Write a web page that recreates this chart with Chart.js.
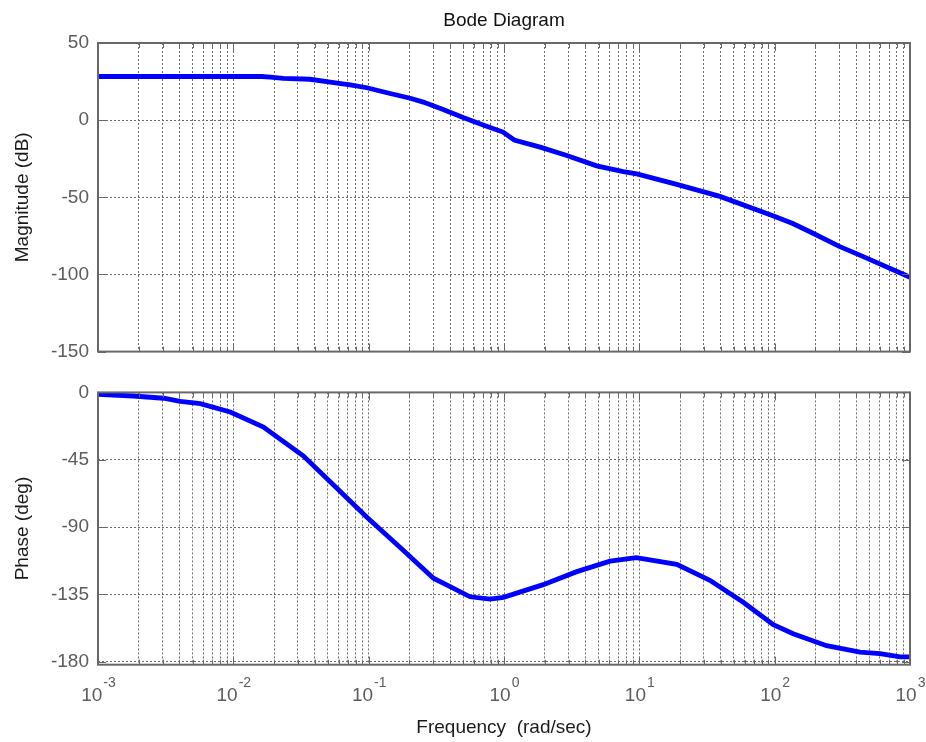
<!DOCTYPE html>
<html>
<head>
<meta charset="utf-8">
<title>Bode Diagram</title>
<script src="https://cdn.jsdelivr.net/npm/chart.js@4.4.0/dist/chart.umd.min.js"></script>
<style>
  html, body { margin: 0; padding: 0; background: #fff; }
  #wrap { position: relative; width: 926px; height: 742px; }
  #mag { position: absolute; left: 0; top: 0; }
  #phase { position: absolute; left: 0; top: 372px; }
</style>
</head>
<body>
<div id="wrap">
  <canvas id="mag" width="926" height="372"></canvas>
  <canvas id="phase" width="926" height="370"></canvas>
</div>
<script>
// Magnitude curve (rad/sec, dB)
const magFreq = [0.001, 0.0163, 0.0187, 0.0234, 0.0369, 0.0519, 0.0729, 0.097, 0.144, 0.203, 0.253, 0.355, 0.499, 0.701, 0.984, 1.19, 1.85, 2.91, 4.84, 7.62, 9.57, 18.9, 39.4, 97.1, 136, 192, 303, 426, 1000];
const magDb = [28.3, 28.3, 27.9, 27.1, 26.5, 24.6, 22.9, 21, 17.3, 14.2, 11.7, 6.9, 1.7, -3.1, -7.7, -12.9, -17.5, -22.9, -29.6, -33.3, -34.8, -41.6, -49.4, -61.9, -67, -73.3, -82, -87.5, -101.8];

// Phase curve (rad/sec, deg)
const phaseFreq = [0.001, 0.00183, 0.00305, 0.00405, 0.0057, 0.00949, 0.0167, 0.033, 0.055, 0.097, 0.171, 0.301, 0.562, 0.789, 0.991, 1.95, 3.45, 6.08, 9.5, 18.9, 33.2, 58.6, 97.7, 137, 242, 427, 600, 843, 1000];
const phaseDeg = [-1.3, -2.4, -3.9, -6, -7.5, -13.1, -23.2, -42.5, -61.9, -83.4, -103.7, -124.2, -136.6, -138.1, -137, -128.5, -119.8, -112.8, -110.5, -114.9, -125.6, -140.3, -155.3, -161.3, -169.3, -173.6, -174.6, -176.8, -176.8];

// Axis ticks
const magTicks = [50, 0, -50, -100, -150];
const phaseTicks = [0, -45, -90, -135, -180];
const decades = [0.001, 0.01, 0.1, 1, 10, 100, 1000];
const decadeExponents = ['-3', '-2', '-1', '0', '1', '2', '3'];

const FONT = '"Liberation Sans", Arial, Helvetica, sans-serif';
const tickGrey = '#5c5c5c';
const gridGrey = '#6c6c6c';
const boxGrey = '#686868';

// 1..9 per decade, the major ones on the powers of ten
function logTicks() {
    const ticks = [];
    const top = decades[decades.length - 1];
    for (let i = 0; i < decades.length; i++) {
        for (let m = 1; m <= 9; m++) {
            const v = decades[i] * m;
            if (v > top * 1.0001) break;
            ticks.push({ value: v, major: m === 1 });
        }
    }
    return ticks;
}

// Box round the plot area with small inward tick marks
const boxPlugin = {
    id: 'box',
    afterDatasetsDraw(chart) {
        const ctx = chart.ctx;
        const a = chart.chartArea;
        const xs = chart.scales.x;
        const ys = chart.scales.y;
        ctx.save();
        ctx.strokeStyle = boxGrey;
        ctx.lineWidth = 1;
        ctx.beginPath();
        xs.ticks.forEach(t => {
            const px = Math.round(xs.getPixelForValue(t.value)) + 0.5;
            const len = t.major ? 8 : 5;
            ctx.moveTo(px, a.top);
            ctx.lineTo(px, a.top + len);
            ctx.moveTo(px, a.bottom);
            ctx.lineTo(px, a.bottom - len);
        });
        ys.ticks.forEach(t => {
            const py = Math.round(ys.getPixelForValue(t.value)) + 0.5;
            ctx.moveTo(a.left, py);
            ctx.lineTo(a.left + 8, py);
            ctx.moveTo(a.right, py);
            ctx.lineTo(a.right - 8, py);
        });
        ctx.stroke();
        ctx.lineWidth = 2;
        ctx.strokeRect(a.left, a.top, a.right - a.left, a.bottom - a.top);
        ctx.restore();
    }
};

// x tick labels as 10 with a raised exponent
const powerLabels = {
    id: 'powerLabels',
    afterDraw(chart, args, opts) {
        if (!opts.show) return;
        const ctx = chart.ctx;
        const xs = chart.scales.x;
        ctx.save();
        ctx.fillStyle = tickGrey;
        ctx.textBaseline = 'alphabetic';
        ctx.textAlign = 'left';
        decades.forEach((v, i) => {
            const px = xs.getPixelForValue(v);
            ctx.font = '19px ' + FONT;
            const wBase = ctx.measureText('10').width;
            ctx.font = '14px ' + FONT;
            const wExp = ctx.measureText(decadeExponents[i]).width;
            const x0 = px - (wBase + wExp) / 2;
            ctx.font = '19px ' + FONT;
            ctx.fillText('10', x0, opts.baseY);
            ctx.font = '14px ' + FONT;
            ctx.fillText(decadeExponents[i], x0 + wBase + 1, opts.baseY - 14);
        });
        ctx.restore();
    }
};

function makeChart(canvas, cfg) {
    return new Chart(canvas.getContext('2d'), {
        type: 'line',
        data: {
            datasets: [{
                data: cfg.freq.map((f, i) => ({ x: f, y: cfg.values[i] })),
                borderColor: '#0000ff',
                borderWidth: 4.8,
                pointRadius: 0,
                tension: 0,
                fill: false
            }]
        },
        options: {
            responsive: false,
            animation: false,
            layout: { padding: cfg.padding },
            plugins: {
                legend: { display: false },
                tooltip: { enabled: false },
                title: cfg.title,
                powerLabels: cfg.powerLabels
            },
            scales: {
                x: {
                    type: 'logarithmic',
                    min: 0.001,
                    max: 1000,
                    afterBuildTicks: function(scale) { scale.ticks = logTicks(); },
                    afterFit: function(scale) { scale.height = cfg.xHeight; },
                    ticks: { display: false },
                    grid: { color: gridGrey, lineWidth: 1, drawTicks: false },
                    border: { display: false, dash: [2, 2] },
                    title: cfg.xTitle
                },
                y: {
                    min: cfg.yMin,
                    max: cfg.yMax,
                    afterBuildTicks: function(scale) {
                        scale.ticks = cfg.yTicks.map(v => ({ value: v }));
                    },
                    afterFit: function(scale) { scale.width = 98; },
                    ticks: {
                        color: tickGrey,
                        font: { size: 19, family: FONT },
                        padding: 9
                    },
                    grid: { color: gridGrey, lineWidth: 1, drawTicks: false },
                    border: { display: false, dash: [2, 2] },
                    title: {
                        display: true,
                        text: cfg.yTitle,
                        color: '#1a1a1a',
                        font: { size: 19, family: FONT },
                        padding: { top: 11, bottom: 0 }
                    }
                }
            }
        },
        plugins: [boxPlugin, powerLabels]
    });
}

makeChart(document.getElementById('mag'), {
    freq: magFreq,
    values: magDb,
    yMin: -150,
    yMax: 50,
    yTicks: magTicks,
    yTitle: 'Magnitude (dB)',
    padding: { top: 0, right: 16, left: 0, bottom: 0 },
    xHeight: 9,
    xTitle: { display: false },
    title: {
        display: true,
        text: 'Bode Diagram',
        fullSize: false,
        color: '#111',
        font: { size: 19, family: FONT, weight: 'normal' },
        padding: { top: 9, bottom: 11.2 }
    },
    powerLabels: { show: false }
});

makeChart(document.getElementById('phase'), {
    freq: phaseFreq,
    values: phaseDeg,
    yMin: -182,
    yMax: 0,
    yTicks: phaseTicks,
    yTitle: 'Phase (deg)',
    padding: { top: 10, right: 16, left: 0, bottom: 0 },
    xHeight: 77.3,
    xTitle: {
        display: true,
        text: 'Frequency  (rad/sec)',
        color: '#1a1a1a',
        font: { size: 19, family: FONT },
        padding: { top: 0, bottom: 3 }
    },
    title: { display: false },
    powerLabels: { show: true, baseY: 329 }
});
</script>
</body>
</html>
